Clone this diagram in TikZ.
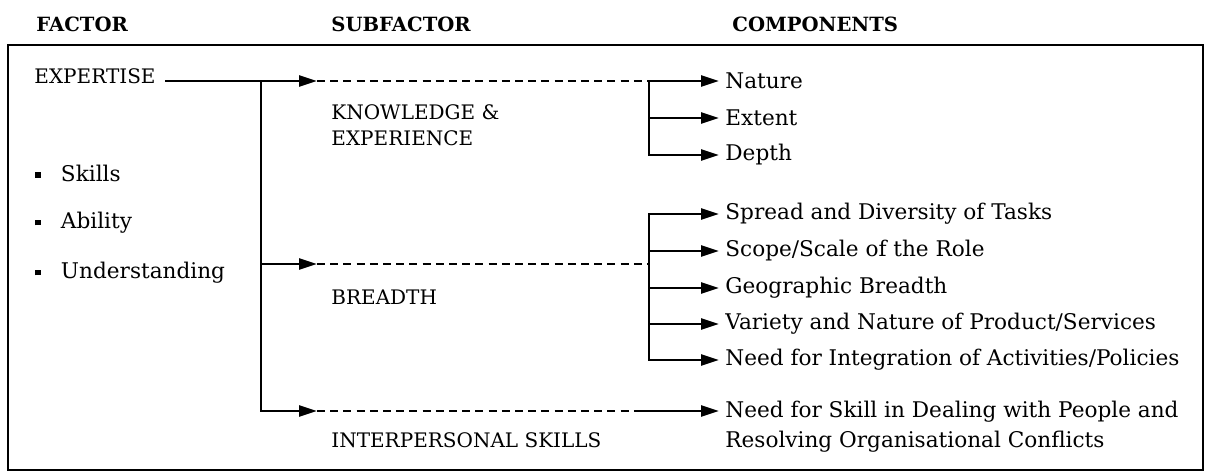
\documentclass[tikz,border=0pt]{standalone}
\usepackage{fontspec}
\setmainfont{DejaVu Serif}
\usetikzlibrary{arrows.meta}

\newcommand{\sqbul}{\rule[0.3ex]{2.8pt}{2.8pt}\hspace{10pt}}

\begin{document}
\begin{tikzpicture}[x=0.5pt, y=-0.5pt,
every node/.style={font=\fontsize{10.8}{15}\selectfont, inner sep=3pt},
head/.style={font=\bfseries\fontsize{9.8}{12}\selectfont, anchor=west},
caps/.style={font=\fontsize{10}{13}\selectfont, anchor=west},
txt/.style={anchor=west},
twoline/.style={anchor=north west, align=left},
link/.style={line width=1.3pt, -{Triangle[length=9pt,width=5.5pt]}},
dashline/.style={line width=1.2pt, dash pattern=on 4pt off 2.6pt},
frame/.style={line width=1pt}]
\useasboundingbox (0,0) rectangle (1206,472);

\node[head] (hfactor) at (30,24) {FACTOR};
\node[head] (hsub) at (325,24) {SUBFACTOR};
\node[head] (hcomp) at (726,24) {COMPONENTS};
\draw[frame] (8,45) rectangle (1203,470);

\node[caps] (expertise) at (28,76) {EXPERTISE};
\node[txt] (skills) at (29,173) {\sqbul Skills};
\node[txt] (ability) at (29,223) {\sqbul Ability};
\node[txt] (underst) at (29,273) {\sqbul Understanding};

\coordinate (e0) at (165,81);
\coordinate (split) at (261,81);
\coordinate (k1) at (317,81);
\coordinate (b1) at (317,264);
\coordinate (i1) at (317,411);
\coordinate (kb) at (649,81);
\coordinate (bb) at (649,264);
\coordinate (ib) at (640,411);

\node[caps, twoline] (knowl) at (325,98) {KNOWLEDGE \&\\EXPERIENCE};
\node[caps] (breadth) at (325,297) {BREADTH};
\node[caps] (inter) at (325,440) {INTERPERSONAL SKILLS};

\node[txt] (nature) at (719,81) {Nature};
\node[txt] (extent) at (719,118) {Extent};
\node[txt] (depth) at (719,155) {Depth};
\node[txt] (spread) at (719,214) {Spread and Diversity of Tasks};
\node[txt] (scope) at (719,251) {Scope/Scale of the Role};
\node[txt] (geo) at (719,288) {Geographic Breadth};
\node[txt] (variety) at (719,324) {Variety and Nature of Product/Services};
\node[txt] (integr) at (719,360) {Need for Integration of Activities/Policies};
\node[twoline] (people) at (719,395) {Need for Skill in Dealing with People and\\Resolving Organisational Conflicts};

\draw[link] (e0) -- (k1);
\draw[link] (split) |- (b1);
\draw[link] (split) |- (i1);
\draw[dashline] (k1) -- (kb);
\draw[dashline] (b1) -- (bb);
\draw[dashline] (i1) -- (ib);

\draw[link] (kb) -- (nature.west);
\draw[link] (kb) |- (extent.west);
\draw[link] (kb) |- (depth.west);
\foreach \c in {spread,scope,geo,variety,integr}
  \draw[link] (bb) |- (\c.west);
\draw[link] (ib) -- (people.north west |- ib);
\end{tikzpicture}
\end{document}
